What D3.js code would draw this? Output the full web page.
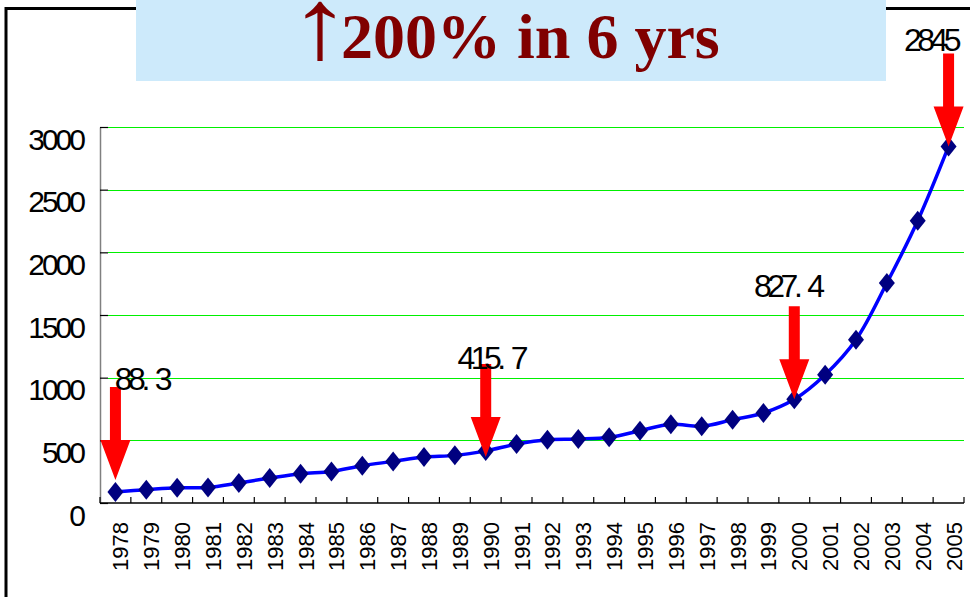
<!DOCTYPE html>
<html>
<head>
<meta charset="utf-8">
<script src="https://cdn.jsdelivr.net/npm/d3@7"></script>
<style>
  body { margin: 0; background: #fff; }
  svg { display: block; }
  .ylab { font-family: "Liberation Sans", Arial, sans-serif; font-size: 30px; letter-spacing: -3px; }
  .xlab { font-family: "Liberation Sans", Arial, sans-serif; font-size: 22px; }
  .vlab { font-family: "Liberation Sans", Arial, sans-serif; font-size: 32px; letter-spacing: -4.5px; }
  .title { font-family: "Liberation Serif", "Times New Roman", serif; font-size: 64px; font-weight: bold; fill: #800000; }
  .title-arrow { font-family: "Liberation Serif", "Times New Roman", serif; font-size: 100px; fill: #800000; }
</style>
</head>
<body>
<svg width="970" height="597"></svg>
<script>
// values (1978-2005)
const years = ['1978','1979','1980','1981','1982','1983','1984','1985','1986','1987',
  '1988','1989','1990','1991','1992','1993','1994','1995','1996','1997',
  '1998','1999','2000','2001','2002','2003','2004','2005'];
const values = [88.3, 106, 122, 124, 160, 199, 234, 252, 298, 332,
  367, 380, 415.7, 470, 505, 510, 524, 577, 628, 612,
  665, 718, 827.4, 1024, 1303, 1755, 2252, 2845];
const yTicks = [0, 500, 1000, 1500, 2000, 2500, 3000];

// highlighted points with their labels
const markYears = ['1978', '1990', '2000', '2005'];
const markLabels = ['88.3', '415.7', '827.4', '2845'];

const titleArrow = '\u2191';
const titleText = '200% in 6 yrs';

// little hand placements for the arrows / labels (like the original slide)
const arrowNudge = [-12, 6, 0, 0];
const labelShift = [[26, 3], [5, 5], [-7, -9], [-18, -2]];

const svg = d3.select('svg');
const margin = {left: 100, right: 6, top: 127, bottom: 94};
const width = +svg.attr('width');
const height = +svg.attr('height');

const x = d3.scaleBand()
  .domain(years)
  .range([margin.left, width - margin.right])
  .padding(0);
const y = d3.scaleLinear()
  .domain([0, 3000])
  .range([height - margin.bottom, margin.top]);
const cx = d => x(d) + x.bandwidth() / 2;

// frame of the slide box
svg.append('path')
  .attr('d', `M6,597V8.5H970`)
  .attr('fill', 'none')
  .attr('stroke', '#000')
  .attr('stroke-width', 3);

// title box
svg.append('rect')
  .attr('x', 136).attr('y', 0)
  .attr('width', 750).attr('height', 81)
  .attr('fill', '#cdeafb');
svg.append('text')
  .attr('class', 'title-arrow')
  .attr('text-anchor', 'middle')
  .attr('transform', 'translate(320,58) scale(1.25,1)')
  .text(titleArrow);
svg.append('text')
  .attr('class', 'title')
  .attr('x', 341).attr('y', 58)
  .text(titleText);

// gridlines
svg.append('g')
  .selectAll('line')
  .data(yTicks.filter(d => d > 0))
  .join('line')
  .attr('x1', margin.left + 8)
  .attr('x2', width - margin.right)
  .attr('y1', d => Math.round(y(d)) + 0.5)
  .attr('y2', d => Math.round(y(d)) + 0.5)
  .attr('stroke', '#00f000')
  .attr('stroke-width', 1.2);

// y axis
const yAxisG = svg.append('g')
  .attr('transform', `translate(${margin.left},0)`)
  .call(d3.axisLeft(y).tickValues(yTicks).tickFormat(d3.format('d'))
    .tickSizeInner(-8).tickSizeOuter(0).tickPadding(17));
yAxisG.attr('font-size', null).attr('font-family', null);
yAxisG.select('.domain').attr('stroke', '#808080').attr('stroke-width', 1.5);
yAxisG.selectAll('.tick line').attr('stroke', '#000').attr('stroke-width', 1.2);
yAxisG.selectAll('.tick text')
  .attr('class', 'ylab')
  .attr('fill', '#000')
  .attr('dy', 0)
  .attr('y', 22);

// x axis
const x0 = y(0);
svg.append('line')
  .attr('x1', margin.left).attr('x2', width - margin.right)
  .attr('y1', x0).attr('y2', x0)
  .attr('stroke', '#000').attr('stroke-width', 1.5);
svg.append('g')
  .selectAll('line')
  .data(years.map(d => x(d)).concat([x.range()[1]]))
  .join('line')
  .attr('x1', d => d).attr('x2', d => d)
  .attr('y1', x0).attr('y2', x0 - 6)
  .attr('stroke', '#000').attr('stroke-width', 1.2);

const xAxisG = svg.append('g')
  .attr('transform', `translate(0,${x0})`)
  .call(d3.axisBottom(x).tickSize(0));
xAxisG.select('.domain').remove();
xAxisG.attr('font-size', null).attr('font-family', null);
xAxisG.selectAll('.tick text')
  .attr('class', 'xlab')
  .attr('fill', '#000')
  .attr('x', 0).attr('y', 0).attr('dy', 0)
  .attr('text-anchor', 'end')
  .attr('transform', 'translate(13,19) rotate(-90)');

// the line
const pts = years.map((d, i) => ({year: d, value: values[i]}));
const line = d3.line()
  .x(d => cx(d.year))
  .y(d => y(d.value))
  .curve(d3.curveCatmullRom.alpha(0.5));
svg.append('path')
  .datum(pts)
  .attr('d', line)
  .attr('fill', 'none')
  .attr('stroke', '#0000ff')
  .attr('stroke-width', 3.5);

// diamond markers
svg.append('g')
  .selectAll('path')
  .data(pts)
  .join('path')
  .attr('d', d => {
    const px = cx(d.year), py = y(d.value);
    return `M${px},${py - 10}L${px + 8},${py}L${px},${py + 10}L${px - 8},${py}Z`;
  })
  .attr('fill', '#000080');

// red arrows and value labels
const marks = markYears.map((d, i) => ({
  year: d,
  label: markLabels[i],
  value: values[years.indexOf(d)],
  nudge: arrowNudge[i],
  shift: labelShift[i]
}));
const arrowG = svg.append('g');
marks.forEach(m => {
  const tx = cx(m.year);
  const ty = y(m.value) + m.nudge;
  const top = ty - 93, neck = ty - 40;
  arrowG.append('path')
    .attr('d', `M${tx - 5.5},${top}H${tx + 5.5}V${neck}H${tx + 15}L${tx},${ty}L${tx - 15},${neck}H${tx - 5.5}Z`)
    .attr('fill', '#ff0000');
  const parts = m.label.split('.');
  const t = arrowG.append('text')
    .attr('class', 'vlab')
    .attr('x', tx + m.shift[0])
    .attr('y', top + m.shift[1])
    .attr('text-anchor', 'middle');
  t.append('tspan').text(parts.length > 1 ? parts[0] + '.' : parts[0]);
  if (parts.length > 1) t.append('tspan').attr('dx', 9).text(parts[1]);
});
</script>
</body>
</html>
